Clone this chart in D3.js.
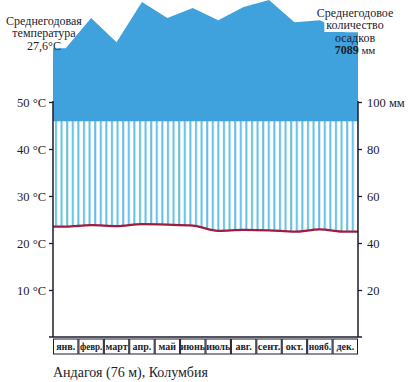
<!DOCTYPE html>
<html><head><meta charset="utf-8">
<script src="https://cdn.jsdelivr.net/npm/d3@7"></script>
<style>body{margin:0;background:#fff}svg{display:block}svg text{font-family:"Liberation Serif","Times New Roman",serif}</style>
</head><body><svg id="c" width="417" height="382"></svg>
<script>
// ---- data ----
const months = ["янв.","февр.","март","апр.","май","июнь","июль","авг.","сент.","окт.","нояб.","дек."];
const temperature = [23.5,23.8,23.6,24.0,23.9,23.7,22.6,22.8,22.7,22.4,22.9,22.4]; // °C
const precipitation = [460,610,490,690,610,660,600,665,700,590,600,540];        // mm (above 100 mm drawn at reduced scale)
const tempTicks = [10,20,30,40,50];
const precipTicks = [20,40,60,80,100];
const humidFrom = 92;   // mm level where the solid (reduced-scale) zone starts
const leftHeader = ["Среднегодовая","температура","27,6°C"];
const rightHeader = ["Среднегодовое","количество","осадков"];
const rightTotal = ["7089"," мм"];
const title = "Андагоя (76 м), Колумбия";

// ---- layout ----
const svg = d3.select("#c");
const X0 = 53, X1 = 358, YB = 337, YT = 102;
const font = "Liberation Serif, Times New Roman, serif";
const ink = "#1c1c2c";
const blue = "#3fa2dc", hatch = "#62bde8", red = "#9c1d3e";

const x = d3.scaleBand().domain(months).range([X0, X1]);
const xc = m => x(m) + x.bandwidth()/2;
const yT = d3.scaleLinear().domain([0,50]).range([YB, YT]);
const yP = d3.scaleLinear().domain([0,100]).range([YB, YT]);
const yW = d3.scaleLinear().domain([100,700]).range([yP(humidFrom), 0]); // reduced scale

const tPts = [[X0, temperature[0]], ...months.map((m,i)=>[xc(m), temperature[i]]), [X1, temperature[11]]];
const pPts = [[X0, precipitation[0]], ...months.map((m,i)=>[xc(m), precipitation[i]]), [X1, precipitation[11]]];

// hatch pattern
const defs = svg.append("defs");
const pat = defs.append("pattern").attr("id","hatch").attr("patternUnits","userSpaceOnUse")
  .attr("x", X0).attr("y", 0).attr("width", 5.6).attr("height", 10);
pat.append("rect").attr("width",5.6).attr("height",10).attr("fill","#fff");
pat.append("line").attr("x1",3).attr("x2",3).attr("y1",0).attr("y2",10)
  .attr("stroke",hatch).attr("stroke-width",2);

const curve = d3.curveMonotoneX;
svg.append("path").datum(tPts)
  .attr("d", d3.area().curve(curve).x(d=>d[0]).y0(yP(humidFrom)).y1(d=>yT(d[1])))
  .attr("fill","url(#hatch)");

svg.append("path").datum(pPts)
  .attr("d", d3.area().x(d=>d[0]).y0(yP(humidFrom)+0.5).y1(d=>yW(d[1])))
  .attr("fill", blue);

svg.append("path").datum(tPts)
  .attr("d", d3.line().curve(curve).x(d=>d[0]).y(d=>yT(d[1])))
  .attr("fill","none").attr("stroke",red).attr("stroke-width",2.3);

// axes
const gl = svg.append("g").attr("transform",`translate(${X0},0)`)
  .call(d3.axisLeft(yT).tickValues(tempTicks).tickSize(4).tickPadding(3).tickFormat(d=>d+" °C"));
gl.select(".domain").remove();
const gr = svg.append("g").attr("transform",`translate(${X1},0)`)
  .call(d3.axisRight(yP).tickValues(precipTicks).tickSize(4).tickPadding(5).tickFormat(d=>d===100?"100 мм":d));
gr.select(".domain").remove();
[gl,gr].forEach(g=>{
  g.attr("font-family",font);
  g.selectAll("line").attr("stroke",ink).attr("stroke-width",1.3);
  g.selectAll("text").attr("font-size",12.5).attr("fill",ink);
});
svg.append("line").attr("x1",X0).attr("x2",X0).attr("y1",yT(50)-1).attr("y2",YB).attr("stroke",ink).attr("stroke-width",1.5);
svg.append("line").attr("x1",X1).attr("x2",X1).attr("y1",yP(100)-1).attr("y2",YB).attr("stroke",ink).attr("stroke-width",1.5);
svg.append("line").attr("x1",X0-4).attr("x2",X1+4).attr("y1",YB).attr("y2",YB).attr("stroke",ink).attr("stroke-width",1.5);

// month boxes
const mg = svg.append("g");
mg.selectAll("rect").data(months).join("rect")
  .attr("x", d=>x(d)+0.5).attr("y", YB+2).attr("width", x.bandwidth()-1).attr("height", 15)
  .attr("fill","none").attr("stroke",ink).attr("stroke-width",1);
mg.selectAll("text").data(months).join("text")
  .attr("x", d=>xc(d)).attr("y", YB+13).attr("text-anchor","middle")
  .attr("font-size",10).attr("font-weight","bold").attr("fill",ink)
  .attr("textLength", d=>d.length>4?x.bandwidth()-3:null).attr("lengthAdjust","spacingAndGlyphs")
  .text(d=>d);

// title
svg.append("text").attr("x",X0).attr("y",377).attr("font-size",14)
  .attr("fill",ink).text(title);

// headers
const lh = [24.5,37,49.5];
leftHeader.forEach((t,i)=>svg.append("text").attr("x",44).attr("y",lh[i]).attr("text-anchor","middle")
  .attr("font-size",12).attr("fill",ink).text(t));
const rh = [16.5,29,41.5,54];
const rg = svg.append("g");
rightHeader.forEach((t,i)=>{
  const tx = rg.append("text").attr("x",355).attr("y",rh[i]).attr("text-anchor","middle")
    .attr("font-size",12).attr("fill",ink).text(t);
  if(i<2){
    const b = tx.node().getBBox();
    rg.insert("rect","text").attr("x",b.x-2).attr("y",b.y).attr("width",b.width+4).attr("height",b.height).attr("fill","#fff");
  }
});
const tt = rg.append("text").attr("x",355).attr("y",rh[3]).attr("text-anchor","middle")
  .attr("font-size",12).attr("fill",ink);
tt.append("tspan").attr("font-weight","bold").text(rightTotal[0]);
tt.append("tspan").attr("font-size",11).text(rightTotal[1]);
</script></body></html>
